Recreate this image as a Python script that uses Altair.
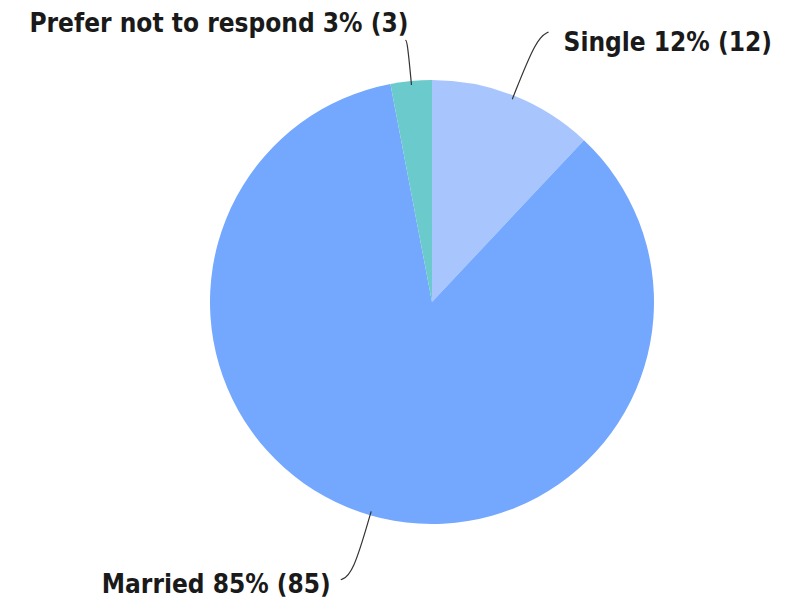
import altair as alt
import pandas as pd
import numpy as np

categories = ["Single", "Married", "Prefer not to respond"]
counts = [12, 85, 3]
percents = [12, 85, 3]
colors = ["#a8c6fd", "#74a7fe", "#6bcacb"]

W, H = 770, 593
CX, CY, R = 424, 294, 222

total = sum(counts)
starts = np.cumsum([0] + counts[:-1]) / total
mids = starts + np.array(counts) / total / 2
ang = mids * 2 * np.pi

labels = [f"{c} {p}% ({n})" for c, p, n in zip(categories, percents, counts)]

arc_df = pd.DataFrame({"cat": categories, "count": counts, "order": [0, 1, 2]})

# leader lines: edge -> radial extension -> hook
ext = [62, 62, 40]
hook = [(12, -6), (-12, 5), (-2, -1)]
rows = []
for i, a in enumerate(ang):
    dx, dy = np.sin(a), -np.cos(a)
    p0 = (CX + (R - 4) * dx, CY + (R - 4) * dy)
    p1 = (CX + (R + ext[i]) * dx, CY + (R + ext[i]) * dy)
    p2 = (p1[0] + hook[i][0], p1[1] + hook[i][1])
    for k, p in enumerate([p0, p1, p2]):
        rows.append({"cat": categories[i], "k": k, "x": p[0], "y": p[1]})
line_df = pd.DataFrame(rows)

# label anchors relative to line ends
lab_off = [(15, 11), (-10, 5), (3, -16)]
lab_align = ["left", "right", "right"]
lab_rows = []
for i in range(3):
    end = line_df[(line_df["cat"] == categories[i]) & (line_df["k"] == 2)].iloc[0]
    lab_rows.append({"cat": categories[i], "label": labels[i],
                     "x": end["x"] + lab_off[i][0], "y": end["y"] + lab_off[i][1],
                     "al": lab_align[i]})
lab_df = pd.DataFrame(lab_rows)

xs = alt.Scale(domain=[0, W], range=[0, W])
ys = alt.Scale(domain=[0, H], range=[0, H])

pie = alt.Chart(arc_df).mark_arc(outerRadius=R).encode(
    theta=alt.Theta("count:Q", stack=True),
    order=alt.Order("order:Q"),
    color=alt.Color("cat:N", scale=alt.Scale(domain=categories, range=colors), legend=None),
    x=alt.value(CX), y=alt.value(CY),
)

lines = alt.Chart(line_df).mark_line(color="#333333", strokeWidth=1.2, interpolate="basis").encode(
    x=alt.X("x:Q", scale=xs, axis=None),
    y=alt.Y("y:Q", scale=ys, axis=None),
    detail="cat:N",
    order="k:Q",
)

def text_layer(align):
    d = lab_df[lab_df["al"] == align]
    return alt.Chart(d).mark_text(
        align=align, baseline="middle", font="DejaVu Sans Condensed", fontSize=26,
        fontWeight="bold", color="#1a1a1a"
    ).encode(
        x=alt.X("x:Q", scale=xs, axis=None),
        y=alt.Y("y:Q", scale=ys, axis=None),
        text="label:N",
    )

chart = alt.layer(pie, lines, text_layer("left"), text_layer("right")).properties(
    width=W, height=H, padding=0, autosize="none"
).configure_view(stroke=None)

chart.save("out.html", embed_options={"renderer": "svg", "actions": False})
